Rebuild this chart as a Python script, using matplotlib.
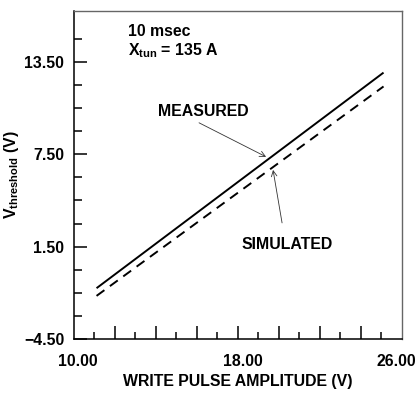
import matplotlib
matplotlib.use('Agg')
import matplotlib.pyplot as plt
import matplotlib.transforms as mtransforms

plt.rcParams['font.family'] = ['Liberation Sans', 'DejaVu Sans']
plt.rcParams['font.weight'] = 'bold'
plt.rcParams['mathtext.fontset'] = 'custom'
plt.rcParams['mathtext.rm'] = 'Liberation Sans:bold'
plt.rcParams['mathtext.it'] = 'Liberation Sans:bold'
plt.rcParams['mathtext.bf'] = 'Liberation Sans:bold'
plt.rcParams['mathtext.default'] = 'bf'

# write pulse amplitude (V) at line ends
pulse = [11.1, 25.1]
measured = [-1.2, 12.8]
simulated = [-1.7, 11.9]

fs = 11.4

fig = plt.figure(figsize=(4.19, 3.93), dpi=100)
ax = fig.add_axes([0.1766, 0.1374, 0.7828, 0.8346])

ax.plot(pulse, measured, color='black', lw=1.4, solid_capstyle='butt')
ax.plot(pulse, simulated, color='black', lw=1.4, dashes=(5, 3.5))

ax.set_xlim(10, 26)
ax.set_ylim(-4.5, 16.8)

# x ticks: long at even, short at odd, labels only 10/18/26
ax.set_xticks(list(range(12, 25, 2)))
ax.set_xticklabels([])
ax.set_xticks(list(range(11, 26, 2)), minor=True)
ax.tick_params(axis='x', which='major', direction='in', length=9.5, width=1.1)
ax.tick_params(axis='x', which='minor', direction='in', length=5, width=1.1)
sec = ax.secondary_xaxis('bottom')
sec.set_xticks([10, 18, 26])
sec.set_xticklabels(['10.00', '18.00', '26.00'], fontsize=fs, fontweight='bold')
sec.tick_params(length=0, pad=11)
sec.spines['bottom'].set_visible(False)
for lab, dx in zip(sec.get_xticklabels(), [4, 5, -6]):
    off = mtransforms.ScaledTranslation(dx / 100, 0, fig.dpi_scale_trans)
    lab.set_transform(lab.get_transform() + off)

yticks = [-4.5, 1.5, 7.5, 13.5]
ax.set_yticks(yticks)
ax.set_yticklabels(['\u22124.50', '1.50', '7.50', '13.50'], fontsize=fs, fontweight='bold')
ax.set_yticks([-3, -1.5, 0, 3, 4.5, 6, 9, 10.5, 12, 15], minor=True)
ax.tick_params(axis='y', which='major', direction='in', length=9.5, width=1.1, pad=7)
ax.tick_params(axis='y', which='minor', direction='in', length=5.5, width=1.1)

for s in ['left', 'bottom']:
    ax.spines[s].set_linewidth(1.1)
for s in ['top', 'right']:
    ax.spines[s].set_linewidth(1.0)
    ax.spines[s].set_color('#666666')

ax.set_xlabel('WRITE PULSE AMPLITUDE (V)', fontsize=fs, fontweight='bold', labelpad=22)
ax.set_ylabel(r'V$_{threshold}$ (V)', fontsize=fs, fontweight='bold', labelpad=2)

ax.text(12.63, 15.45, '10 msec', fontsize=fs, fontweight='bold', va='center', ha='left')
ax.text(12.63, 14.25, r'X$_{tun}$ = 135 A', fontsize=fs, fontweight='bold', va='center', ha='left')

ax.text(16.29, 10.25, 'MEASURED', fontsize=fs, fontweight='bold', va='center', ha='center')
ax.text(20.39, 1.61, 'SIMULATED', fontsize=fs, fontweight='bold', va='center', ha='center')

arrow = dict(arrowstyle='->', lw=0.6, color='#333333', mutation_scale=10, shrinkA=0, shrinkB=0)
ax.annotate('', xy=(19.37, 7.33), xytext=(16.10, 9.54), arrowprops=arrow)
ax.annotate('', xy=(19.71, 6.48), xytext=(20.15, 3.04), arrowprops=arrow)

fig.savefig('out.png', dpi=100)
